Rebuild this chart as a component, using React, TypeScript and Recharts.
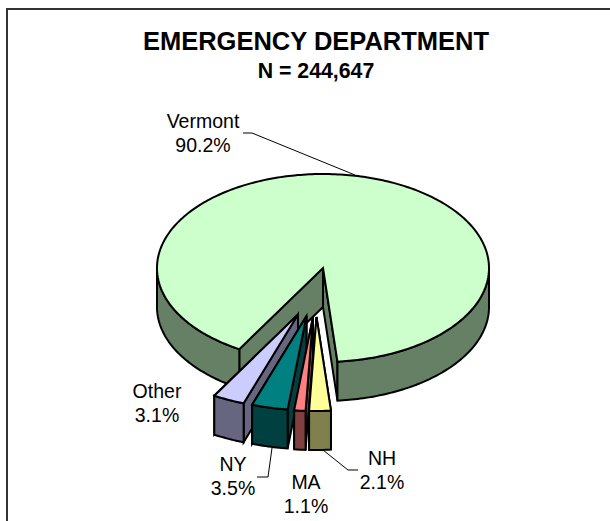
import React from 'react';
import { PieChart, Pie } from 'recharts';

const regions = ['Vermont', 'Other', 'NY', 'MA', 'NH'];
const shares = [90.2, 3.1, 3.5, 1.1, 2.1];

const topColors = ['#CCFFCC', '#CCCCFF', '#008080', '#FF8080', '#FFFF99'];
const wallColors = ['#668066', '#666680', '#004040', '#804040', '#80804C'];

// pulled-out slices, in px on screen
const explodeX = [0, -25, -16.5, -10, -6.5];
const explodeY = [0, 46.5, 48, 49, 49];

const labelX = [203, 157, 233, 306, 382];
const labelY = [128, 398, 471, 489, 465];
const leaders = [
  '243,133 252,133 355,175',
  '',
  '272,448 268,477 257,477',
  '',
  '323,450 348,470 358,470',
];

const data = regions.map((name, i) => ({ name, value: shares[i] }));

const CX = 323;
const CY = 268;
const RX = 166;
const RY = 94;
const DEPTH = 39;
const FONT = '"Liberation Sans", Arial, sans-serif';

const pt = (angle: number, dx: number, dy: number) => {
  const a = (angle * Math.PI) / 180;
  return [CX + dx + RX * Math.cos(a), CY + dy - RY * Math.sin(a)];
};

const SliceShape = (props: any) => {
  const i = regions.indexOf(props.name);
  const dx = explodeX[i];
  const dy = explodeY[i];
  const start = props.startAngle;
  const end = props.endAngle;

  const arc: number[][] = [];
  const steps = Math.max(2, Math.ceil(end - start));
  for (let s = 0; s <= steps; s++) {
    arc.push(pt(start + ((end - start) * s) / steps, dx, dy));
  }
  const apex = [CX + dx, CY + dy];
  const low = (p: number[]) => [p[0], p[1] + DEPTH];
  const poly = (pts: number[][]) => pts.map((p) => p.join(',')).join(' ');

  // only the part of the rim in front of the centre shows
  const runs: number[][][] = [];
  let run: number[][] = [];
  arc.forEach((p) => {
    if (p[1] >= CY + dy) run.push(p);
    else if (run.length) {
      runs.push(run);
      run = [];
    }
  });
  if (run.length) runs.push(run);

  const common = {
    stroke: '#000',
    strokeWidth: 2,
    strokeLinejoin: 'miter' as const,
  };
  const first = arc[0];
  const last = arc[arc.length - 1];

  return (
    <g>
      <polygon points={poly([apex, first, low(first), low(apex)])} fill={wallColors[i]} {...common} />
      <polygon points={poly([apex, last, low(last), low(apex)])} fill={wallColors[i]} {...common} />
      {runs.map((r, k) => (
        <polygon
          key={k}
          points={poly([...r, ...r.map(low).reverse()])}
          fill={wallColors[i]}
          {...common}
        />
      ))}
      <polygon points={poly([apex, ...arc])} fill={topColors[i]} {...common} />
    </g>
  );
};

const SliceLabel = (props: any) => {
  const i = regions.indexOf(props.name);
  return (
    <g>
      {leaders[i] && <polyline points={leaders[i]} fill="none" stroke="#000" strokeWidth={1} />}
      <text x={labelX[i]} y={labelY[i]} textAnchor="middle" fontFamily={FONT} fontSize={19.5} fill="#000">
        {props.name}
      </text>
      <text x={labelX[i]} y={labelY[i] + 24} textAnchor="middle" fontFamily={FONT} fontSize={19.5} fill="#000">
        {props.value.toFixed(1)}%
      </text>
    </g>
  );
};

export default function App() {
  return (
    <div style={{ position: 'absolute', left: 0, top: 0, width: 610, height: 521, overflow: 'hidden', background: '#fff' }}>
      <PieChart width={610} height={521} margin={{ top: 0, right: 0, bottom: 0, left: 0 }}>
        {/* chart frame runs off the right and bottom of the picture */}
        <rect x={7} y={9} width={800} height={800} fill="none" stroke="#333" strokeWidth={2} />
        <text x={316} y={50} textAnchor="middle" fontFamily={FONT} fontWeight="bold" fontSize={25.5} fill="#000">
          EMERGENCY DEPARTMENT
        </text>
        <text x={316} y={78} textAnchor="middle" fontFamily={FONT} fontWeight="bold" fontSize={21.3} fill="#000">
          N = 244,647
        </text>
        <Pie
          data={data}
          dataKey="value"
          nameKey="name"
          cx={CX}
          cy={CY}
          outerRadius={RX}
          startAngle={-445}
          endAngle={-85}
          paddingAngle={0}
          shape={SliceShape}
          label={SliceLabel}
          labelLine={false}
          isAnimationActive={false}
        />
      </PieChart>
    </div>
  );
}
